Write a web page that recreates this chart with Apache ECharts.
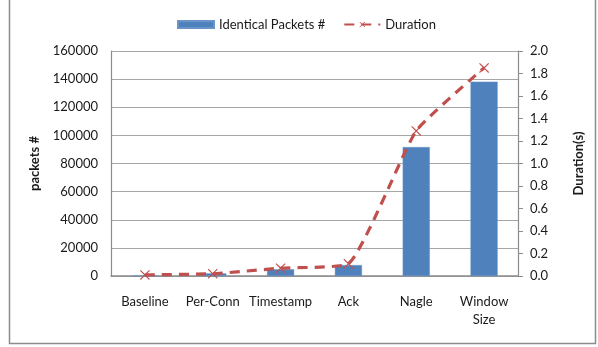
<!DOCTYPE html>
<html>
<head>
<meta charset="utf-8">
<script src="https://cdn.jsdelivr.net/npm/echarts@6/dist/echarts.min.js"></script>
<style>
  html, body { margin: 0; padding: 0; background: #fff; }
  #chart { width: 598px; height: 347px; }
</style>
</head>
<body>
<div id="chart"></div>
<script>
// Categories and measured series
const categories = ['Baseline', 'Per-Conn', 'Timestamp', 'Ack', 'Nagle', 'Window\nSize'];
const identicalPackets = [200, 1900, 4800, 7800, 91700, 138200];
const duration = [0.01, 0.02, 0.07, 0.11, 1.29, 1.85];
const packetTicks = { min: 0, max: 160000, interval: 20000 };
const durationTicks = { min: 0, max: 2.0, interval: 0.2 };

const FONT = 'Lato, "Open Sans", sans-serif';
const TEXT = '#1a1a1a';
const crossPath = 'path://M0,0.8L0.8,0L5,4.2L9.2,0L10,0.8L5.8,5L10,9.2L9.2,10L5,5.8L0.8,10L0,9.2L4.2,5Z';

const chart = echarts.init(document.getElementById('chart'), null, { renderer: 'canvas' });

chart.setOption({
  animation: false,
  backgroundColor: '#fff',
  textStyle: { fontFamily: FONT, color: TEXT },
  graphic: [{
    type: 'rect',
    shape: { x: 9.5, y: -5, width: 586, height: 348.5 },
    style: { fill: 'none', stroke: '#8c8c8c', lineWidth: 1.5 },
    silent: true
  }],
  legend: {
    top: 13,
    left: 172,
    itemGap: 18,
    itemWidth: 36,
    itemHeight: 7,
    textStyle: { fontFamily: FONT, fontSize: 13, color: TEXT },
    data: [
      { name: 'Identical Packets #', icon: 'rect' },
      { name: 'Duration' }
    ]
  },
  grid: { left: 111, right: 80, top: 51, bottom: 71 },
  xAxis: {
    type: 'category',
    data: categories,
    axisLine: { lineStyle: { color: '#8c8c8c', width: 1.5 } },
    axisTick: { show: false },
    axisLabel: { interval: 0, color: TEXT, fontSize: 13, fontFamily: FONT, margin: 17, lineHeight: 18 }
  },
  yAxis: [
    {
      type: 'value',
      name: 'packets #',
      nameLocation: 'middle',
      nameRotate: 90,
      nameGap: 70,
      nameTextStyle: { fontWeight: 'bold', fontSize: 13, color: TEXT, fontFamily: FONT },
      min: packetTicks.min, max: packetTicks.max, interval: packetTicks.interval,
      axisLine: { show: true, lineStyle: { color: '#8c8c8c', width: 1.2 } },
      axisTick: { show: false },
      axisLabel: { color: TEXT, fontSize: 13, fontFamily: FONT, margin: 13, formatter: v => String(v) },
      splitLine: { lineStyle: { color: '#a6a6a6', width: 1.2 } }
    },
    {
      type: 'value',
      name: 'Duration(s)',
      nameLocation: 'middle',
      nameRotate: 90,
      nameGap: 54,
      nameTextStyle: { fontWeight: 'bold', fontSize: 13, color: TEXT, fontFamily: FONT },
      min: durationTicks.min, max: durationTicks.max, interval: durationTicks.interval,
      axisLine: { show: true, lineStyle: { color: '#8c8c8c', width: 1.2 } },
      axisTick: { show: true, inside: false, length: 5, lineStyle: { color: '#8c8c8c' } },
      axisLabel: {
        color: TEXT, fontSize: 13, fontFamily: FONT, margin: 12,
        formatter: v => v.toFixed(1)
      },
      splitLine: { show: false }
    }
  ],
  series: [
    {
      name: 'Identical Packets #',
      type: 'bar',
      yAxisIndex: 0,
      data: identicalPackets,
      barWidth: '40%',
      itemStyle: { color: '#4F81BD', borderColor: '#6a95c8', borderWidth: 0.5 },
      z: 2
    },
    {
      name: 'Duration',
      type: 'line',
      yAxisIndex: 1,
      data: duration,
      smooth: 0.15,
      symbol: crossPath,
      symbolSize: 10,
      showAllSymbol: true,
      lineStyle: { color: '#C0504D', width: 3.2, type: [10, 7] },
      itemStyle: { color: '#C0504D' },
      z: 3
    }
  ]
});
</script>
</body>
</html>
